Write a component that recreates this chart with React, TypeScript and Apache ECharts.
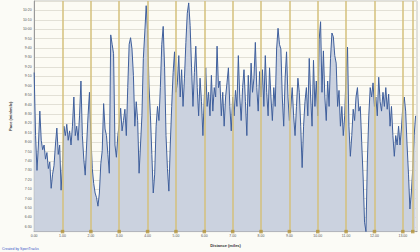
import React, { useEffect, useRef } from "react";
import * as echarts from "echarts";

// Sample spacing along the course (miles)
const sampleStep = 0.05;

// Pace in seconds per mile, one value per sample
const paceSeconds = [
  554, 487, 450, 477, 513, 482, 472, 477, 462, 469,
  452, 459, 431, 446, 455, 477, 495, 467, 477, 429,
  457, 497, 487, 499, 482, 492, 477, 497, 528, 487,
  497, 482, 508, 545, 487, 462, 445, 477, 508, 533,
  487, 452, 436, 426, 421, 412, 426, 457, 471, 521,
  494, 487, 467, 447, 594, 584, 574, 477, 464, 487,
  499, 516, 492, 503, 515, 487, 538, 584, 591, 579,
  551, 497, 523, 503, 447, 477, 508, 569, 596, 625,
  599, 540, 508, 467, 426, 446, 497, 518, 503, 538,
  584, 603, 559, 487, 452, 428, 477, 518, 554, 576,
  533, 543, 572, 528, 557, 518, 548, 586, 617, 628,
  604, 559, 518, 554, 582, 538, 508, 548, 523, 487,
  528, 559, 518, 533, 508, 551, 513, 538, 528, 582,
  538, 545, 508, 533, 497, 528, 543, 559, 518, 492,
  528, 508, 535, 518, 572, 528, 503, 538, 557, 523,
  487, 551, 518, 564, 533, 548, 586, 538, 513, 555,
  528, 557, 518, 572, 533, 508, 559, 528, 503, 538,
  518, 579, 601, 584, 579, 528, 497, 548, 576, 528,
  503, 518, 538, 508, 487, 518, 548, 533, 497, 453,
  497, 523, 538, 508, 569, 528, 497, 567, 518, 545,
  508, 589, 608, 533, 577, 528, 503, 545, 518, 569,
  596, 592, 572, 564, 518, 535, 497, 518, 487, 508,
  554, 581, 497, 465, 487, 515, 503, 528, 538, 513,
  518, 480, 443, 395, 385, 460, 508, 538, 528, 543,
  518, 528, 508, 549, 523, 513, 533, 518, 538, 515,
  531, 497, 518, 487, 465, 487, 477, 497, 477, 494,
  518, 528, 513, 477, 446, 409, 426, 452, 487, 508,
];

// Lap markers (miles)
const lapDistances = [1, 2, 3, 4, 5, 6, 7, 8, 9, 10, 11, 12, 13, 13.35];

const yMin = 385;
const yMax = 630;
const xMax = 13.5;

const fmtPace = (v: number) => {
  const m = Math.floor(v / 60);
  const s = Math.round(v % 60);
  return `${m}:${String(s).padStart(2, "0")}`;
};

export default function App() {
  const ref = useRef<HTMLDivElement>(null);

  useEffect(() => {
    document.body.style.margin = "0";
    const chart = echarts.init(ref.current!, null, { renderer: "svg" });
    const data = paceSeconds.map((p, i) => [+(i * sampleStep).toFixed(2), p]);
    const font = "Liberation Sans";

    chart.setOption({
      animation: false,
      backgroundColor: "#fbfbf6",
      textStyle: { fontFamily: font },
      grid: {
        left: 19.5,
        right: 0,
        top: 1,
        bottom: 12.5,
        show: true,
        backgroundColor: "#fcfbf4",
        borderColor: "#c4c4c0",
        borderWidth: 1,
      },
      xAxis: {
        type: "value",
        min: 0,
        max: xMax,
        interval: 1,
        axisLine: { show: true, lineStyle: { color: "#9a9a9a", width: 1 } },
        axisTick: { show: false },
        splitLine: { show: false },
        axisLabel: {
          fontSize: 3.5,
          color: "#555",
          margin: 2.5,
          fontFamily: font,
          formatter: (v: number) => (Number.isInteger(v) ? v.toFixed(2) : ""),
        },
        name: "Distance (miles)",
        nameLocation: "middle",
        nameGap: 8,
        nameTextStyle: { fontSize: 4, color: "#333", fontWeight: "bold", fontFamily: font },
      },
      yAxis: {
        type: "value",
        min: yMin,
        max: yMax,
        interval: 5,
        axisLine: { show: true, lineStyle: { color: "#9a9a9a", width: 1 } },
        axisTick: { show: false },
        splitLine: {
          show: true,
          lineStyle: { color: ["rgba(0,0,0,0)", "#e2e0d6"], width: 1 },
        },
        axisLabel: {
          fontSize: 3.5,
          color: "#555",
          margin: 2.5,
          fontFamily: font,
          formatter: (v: number) =>
            v % 10 === 0 && v >= 390 && v < yMax ? fmtPace(v) : "",
        },
        name: "Pace (min/mile)",
        nameLocation: "middle",
        nameGap: 15,
        nameTextStyle: { fontSize: 4, color: "#333", fontWeight: "bold", fontFamily: font },
      },
      graphic: [
        {
          type: "text",
          left: 2,
          top: 246.5,
          style: {
            text: "Created by SportTracks",
            fontSize: 3.5,
            fill: "#3a55c8",
            fontFamily: font,
          },
        },
      ],
      series: [
        {
          type: "line",
          data,
          showSymbol: false,
          symbol: "none",
          sampling: undefined,
          lineStyle: { color: "#3f5f9c", width: 1 },
          areaStyle: { color: "#cbd2df", opacity: 1, origin: "start" },
          z: 2,
          markLine: {
            silent: true,
            symbol: "none",
            label: { show: false },
            lineStyle: { color: "#d5c07c", width: 1.5, type: "solid" },
            data: lapDistances.map((d) => ({ xAxis: d })),
            z: 3,
          },
        },
        {
          type: "scatter",
          data: lapDistances.map((d) => [d, yMin]),
          symbol: "rect",
          symbolSize: 3.5,
          itemStyle: { color: "#b4943a" },
          clip: false,
          silent: true,
          z: 4,
        },
      ],
    });

    return () => chart.dispose();
  }, []);

  return <div ref={ref} style={{ width: 420, height: 252 }} />;
}
